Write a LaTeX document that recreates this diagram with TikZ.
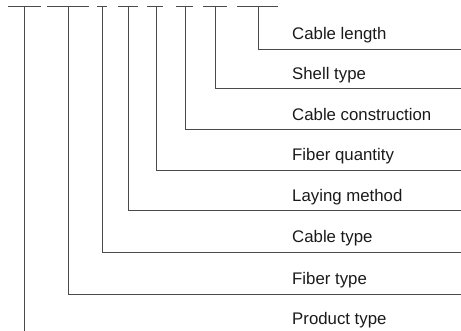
\documentclass[tikz,border=0pt]{standalone}
\usepackage{fontspec}
\setmainfont{Liberation Sans}
\usepackage{xcolor}
\definecolor{cLine}{HTML}{4A4A4A}
\definecolor{cText}{HTML}{1A1A1A}
\usetikzlibrary{positioning}
\tikzset{
  code-dash/.style={draw=cLine,line width=0.9pt},
  code-lead/.style={draw=cLine,line width=0.9pt},
  code-label/.style={anchor=base west,inner sep=0pt,text=cText,
    font=\fontsize{16.8}{20}\selectfont},
}

\begin{document}
\begin{tikzpicture}[x=1pt,y=-1pt]
  \useasboundingbox (0,0) rectangle (461,331);
  % code positions along the top
  \coordinate (top-product)  at (24,6);
  \coordinate (top-fiber)    at (68,6);
  \coordinate (top-cable)    at (102,6);
  \coordinate (top-laying)   at (128,6);
  \coordinate (top-quantity) at (156,6);
  \coordinate (top-constr)   at (185,6);
  \coordinate (top-shell)    at (215,6);
  \coordinate (top-length)   at (258,6);
  \draw[code-dash] ([xshift=-16pt]top-product)  -- ([xshift=17pt]top-product);
  \draw[code-dash] ([xshift=-21pt]top-fiber)    -- ([xshift=21pt]top-fiber);
  \draw[code-dash] ([xshift=-5pt]top-cable)     -- ([xshift=5pt]top-cable);
  \draw[code-dash] ([xshift=-10pt]top-laying)   -- ([xshift=10pt]top-laying);
  \draw[code-dash] ([xshift=-9pt]top-quantity)  -- ([xshift=7pt]top-quantity);
  \draw[code-dash] ([xshift=-9pt]top-constr)    -- ([xshift=8pt]top-constr);
  \draw[code-dash] ([xshift=-12pt]top-shell)    -- ([xshift=12pt]top-shell);
  \draw[code-dash] ([xshift=-21pt]top-length)   -- ([xshift=20pt]top-length);
  % labels
  \node[code-label] (lbl-length)   at (292,40)  {Cable length};
  \node[code-label] (lbl-shell)    at (292,80)  {Shell type};
  \node[code-label] (lbl-constr)   at (292,121) {Cable construction};
  \node[code-label] (lbl-quantity) at (292,161) {Fiber quantity};
  \node[code-label] (lbl-laying)   at (292,202) {Laying method};
  \node[code-label] (lbl-cable)    at (292,243) {Cable type};
  \node[code-label] (lbl-fiber)    at (292,285) {Fiber type};
  \node[code-label] (lbl-product)  at (292,325) {Product type};
  % leader ends at the right edge
  \coordinate (end-length)   at (461,49);
  \coordinate (end-shell)    at (461,88);
  \coordinate (end-constr)   at (461,129);
  \coordinate (end-quantity) at (461,170);
  \coordinate (end-laying)   at (461,210);
  \coordinate (end-cable)    at (461,252);
  \coordinate (end-fiber)    at (461,294);
  \coordinate (end-product)  at (24,331);
  \draw[code-lead] (top-length)   |- (end-length);
  \draw[code-lead] (top-shell)    |- (end-shell);
  \draw[code-lead] (top-constr)   |- (end-constr);
  \draw[code-lead] (top-quantity) |- (end-quantity);
  \draw[code-lead] (top-laying)   |- (end-laying);
  \draw[code-lead] (top-cable)    |- (end-cable);
  \draw[code-lead] (top-fiber)    |- (end-fiber);
  \draw[code-lead] (top-product)  -- (end-product);
\end{tikzpicture}
\end{document}
